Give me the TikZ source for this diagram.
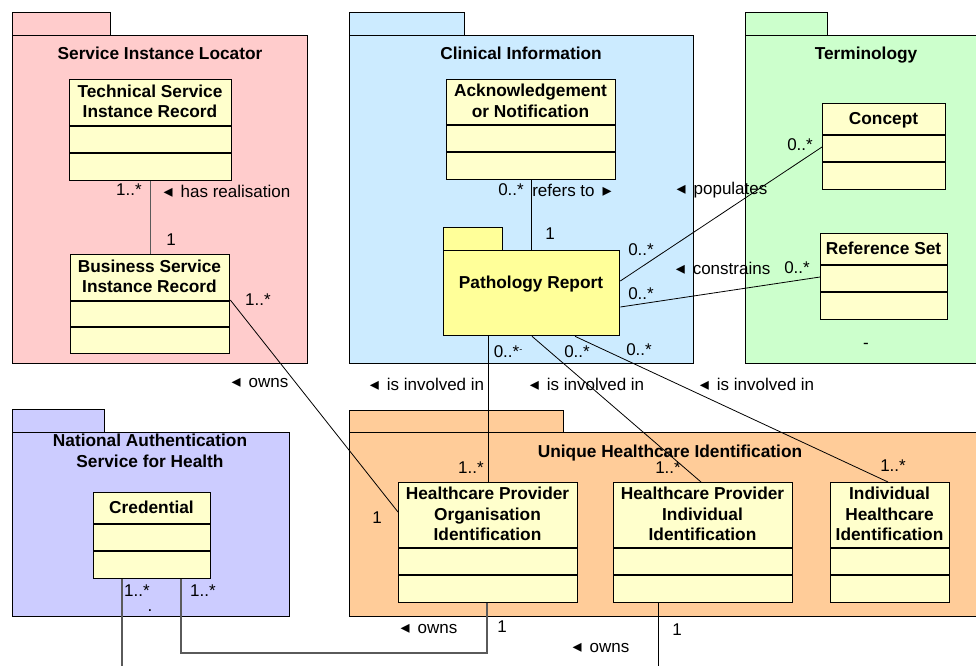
\documentclass[tikz,border=0pt]{standalone}
\usepackage{fontspec}
\setmainfont{Liberation Sans}
\newfontfamily\symfont{DejaVu Sans}
\usetikzlibrary{calc}

\definecolor{pinkpkg}{HTML}{FFCCCC}
\definecolor{bluepkg}{HTML}{CCEBFF}
\definecolor{greenpkg}{HTML}{CCFFCC}
\definecolor{lilacpkg}{HTML}{CCCCFF}
\definecolor{peachpkg}{HTML}{FFCC99}
\definecolor{classfill}{HTML}{FFFFCC}
\definecolor{reportfill}{HTML}{FFFF99}
\definecolor{linkgray}{HTML}{5A5A5A}

\tikzset{
  pkgpart/.style={draw=black, line width=1.3pt, inner sep=0pt, anchor=north west, rectangle},
  classbox/.style={draw=black, fill=classfill, line width=1.3pt, inner sep=0pt, anchor=north west, rectangle},
  pkgtitle/.style={font=\fontsize{17.3}{20.5}\selectfont\bfseries, align=center, inner sep=0pt},
  classtitle/.style={pkgtitle},
  lbl/.style={font=\fontsize{17}{20}\selectfont, inner sep=0pt},
  assoc/.style={draw=black, line width=0.8pt},
  assocgray/.style={draw=linkgray, line width=1.2pt},
}

% reading-direction marks for association names
\newcommand\lefttri{{\symfont\fontsize{18}{18}\selectfont ◂}\hspace{8pt}}
\newcommand\righttri{\hspace{8pt}{\symfont\fontsize{18}{18}\selectfont ▸}}

% box node from corner (x1,y1) to corner (x2,y2): style, name, x1, y1, x2, y2
\newcommand\boxat[6]{%
  \node[#1, minimum width={(#5-#3)*1pt}, minimum height={(#6-#4)*1pt}] (#2) at (#3,#4) {};}

% UML class: name, x1, y1, x2, y2, first divider, second divider, title, title shift
\newcommand\umlclass[9]{%
  \boxat{classbox}{#1}{#2}{#3}{#4}{#5}
  \node[classtitle] (#1-name) at ({(#2+#4)/2},{(#3+#6)/2-1+#9}) {#8};
  \draw[line width=1.3pt] (#2,#6) -- (#4,#6) (#2,#7) -- (#4,#7);
}

% UML package: name, colour, x1, tab top, tab right, body top, x2, bottom
\newcommand\umlpackage[8]{%
  \boxat{pkgpart,fill=#2}{#1-tab}{#3}{#4}{#5}{#6}
  \boxat{pkgpart,fill=#2}{#1}{#3}{#6}{#7}{#8}
}

\begin{document}
\begin{tikzpicture}[x=1pt,y=-1pt]
\useasboundingbox (0,0) rectangle (976,665);
\clip (0,0) rectangle (976,665);

% ---------- packages ----------
\umlpackage{sil}{pinkpkg}{12}{12}{110}{35}{307}{363}
\node[pkgtitle] (sil-title) at (160,53) {Service Instance Locator};

\umlpackage{clin}{bluepkg}{349}{12}{464}{35}{693}{363}
\node[pkgtitle] (clin-title) at (521,53) {Clinical Information};

\umlpackage{term}{greenpkg}{745}{12}{827}{35}{1000}{363}
\node[pkgtitle] (term-title) at (866,55) {Terminology};
\node[lbl] (term-mark) at (866,346) {-};

\umlpackage{nash}{lilacpkg}{12}{409}{104}{432}{289}{616}
\node[pkgtitle] (nash-title) at (150,451) {National Authentication\\Service for Health};

\umlpackage{uhi}{peachpkg}{349}{410}{563}{432}{1000}{616}
\node[pkgtitle] (uhi-title) at (670,453) {Unique Healthcare Identification};

\umlpackage{report}{reportfill}{443}{227}{502}{250}{619}{335}
\node[pkgtitle] (report-title) at (531,284) {Pathology Report};

% ---------- classes ----------
\umlclass{tsir}{69}{79}{231}{180}{126}{153}{Technical Service\\Instance Record}{0}
\umlclass{bsir}{70}{254}{229}{353}{301}{327}{Business Service\\Instance Record}{0}
\umlclass{ack}{446}{79}{615}{179}{125}{152}{Acknowledgement\\or Notification}{0}
\umlclass{concept}{822}{103}{945}{189}{135}{162}{Concept}{2}
\umlclass{refset}{820}{233}{947}{319}{265}{292}{Reference Set}{0}
\umlclass{cred}{93}{492}{210}{578}{524}{551}{Credential}{0}
\umlclass{hpoi}{398}{482}{577}{602}{548}{575}{Healthcare Provider\\Organisation\\Identification}{0}
\umlclass{hpii}{613}{482}{792}{602}{548}{575}{Healthcare Provider\\Individual\\Identification}{0}
\umlclass{ihi}{830}{482}{949}{602}{548}{575}{Individual\\Healthcare\\Identification}{0}

% ---------- connectors ----------
\draw[assocgray] (tsir.south) -- (tsir.south |- bsir.north);
\draw[assoc] ($(bsir.north east)+(0,46)$) -- ($(hpoi.north west)+(0,30)$);
\draw[assoc] (ack.south) -- (ack.south |- report.north);
\draw[assoc] ($(report.north east)+(0,31)$) -- ($(concept.north west)+(0,44)$);
\draw[assoc] ($(report.north east)+(0,57)$) -- ($(refset.north west)+(0,44)$);

\coordinate (rep-a) at ($(report.south west)+(45,0)$);
\draw[assoc] (rep-a) -- (rep-a |- hpoi.north);
\draw[assoc] ($(report.south west)+(89,0)$) -- ($(hpii.north west)+(88,0)$);
\draw[assoc] ($(report.south west)+(132,0)$) -- ($(ihi.north west)+(58,0)$);

\coordinate (cred-left-end) at (122,672);
\draw[assocgray] ($(cred.south west)+(29,0)$) -- (cred-left-end);
\coordinate (cred-bend) at (487,653);
\coordinate (hpoi-foot) at ($(hpoi.south west)+(89,0)$);
\draw[assocgray] ($(cred.south west)+(88,0)$) |- (cred-bend) -- (hpoi-foot);
\coordinate (hpii-end) at (658,672);
\draw[assoc] ($(hpii.south west)+(45,0)$) -- (hpii-end);

% ---------- association labels ----------
\node[lbl] (m-tsir) at (129,190) {1..*};
\node[lbl] (l-real) at (227,191) {\lefttri has realisation};
\node[lbl] (m-bsir1) at (171,240) {1};
\node[lbl] (m-bsir2) at (258,300) {1..*};
\node[lbl] (l-owns1) at (260,383) {\lefttri owns};
\node[lbl] (m-hpoi1) at (377,518) {1};

\node[lbl] (m-ack) at (511,190) {0..*};
\node[lbl] (l-refers) at (572,190) {refers to\righttri};
\node[lbl] (m-rep1) at (550,234) {1};

\node[lbl] (l-pop) at (722,190) {\lefttri populates};
\node[lbl] (m-concept) at (800,145) {0..*};
\node[lbl] (m-rep2) at (641,250) {0..*};
\node[lbl] (l-con) at (723,268) {\lefttri constrains};
\node[lbl] (m-refset) at (797,268) {0..*};
\node[lbl] (m-rep3) at (641,294) {0..*};

\node[lbl] (m-rep4) at (508,352) {0..*\raisebox{5pt}{\fontsize{9}{9}\selectfont -}};
\node[lbl] (m-rep5) at (577,352) {0..*};
\node[lbl] (m-rep6) at (639,350) {0..*};

\node[lbl] (l-inv1) at (427,384) {\lefttri is involved in};
\node[lbl] (l-inv2) at (587,384) {\lefttri is involved in};
\node[lbl] (l-inv3) at (757,384) {\lefttri is involved in};

\node[lbl] (m-hpoi2) at (471,468) {1..*};
\node[lbl] (m-hpii) at (668,468) {1..*};
\node[lbl] (m-ihi) at (893,466) {1..*};

\node[lbl] (m-cred1) at (137,591) {1..*};
\node[lbl] (m-cred2) at (203,591) {1..*};
\node[lbl] (m-dot) at (150,611) {.};

\node[lbl] (l-owns2) at (429,629) {\lefttri owns};
\node[lbl] (m-hpoi3) at (502,627) {1};
\node[lbl] (l-owns3) at (601,648) {\lefttri owns};
\node[lbl] (m-hpii2) at (677,630) {1};
\end{tikzpicture}
\end{document}
